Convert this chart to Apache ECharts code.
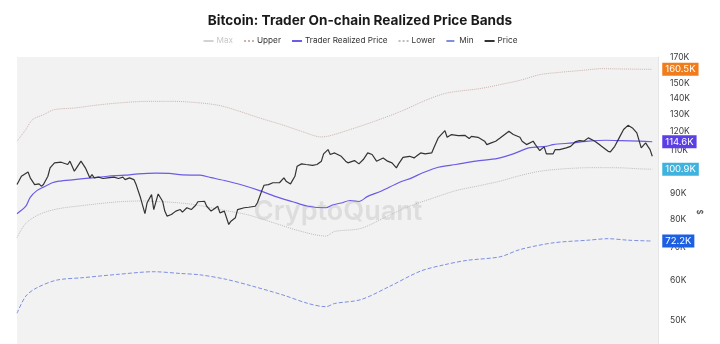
<!DOCTYPE html>
<html>
<head>
<meta charset="utf-8">
<script src="https://cdn.jsdelivr.net/npm/echarts@6/dist/echarts.min.js"></script>
<style>html,body{margin:0;padding:0;background:#fff;}#c{width:720px;height:344px;}</style>
</head>
<body>
<div id="c"></div>
<script>
// ---- Data (prices in thousands of USD; x = days since 2025-01-02) ----
const startDate = '2025-01-02';
const yTicksK = [50, 60, 70, 80, 90, 100, 110, 120, 130, 140, 150, 160, 170];

const priceDays = [
  0,2,5,6,8,10,11,12,14,15,
  17,20,23,24,26,27,29,31,33,34,
  35,37,39,41,44,46,48,49,51,53,
  54,56,58,59,61,62,64,66,67,68,
  70,72,74,75,77,79,81,82,85,86,
  88,89,91,92,94,96,97,99,100,103,
  105,108,109,111,112,114,116,119,121,122,
  124,126,127,129,131,134,136,138,139,141,
  142,144,147,149,150,153,155,157,159,161,
  163,166,168,170,172,173,175,178,180,181,
  183,185,188,189,191,192,194,195,197,200,
  203,205,206,209,212,213,215,217,219,222,
  223,225,228,229,231,234,235,237,239,240,
  243,244,246,249,251,253,255,257,259,262,
  264,265,268,269,271,273,275,277,279,281,
  283,285,286,287,288
];
const priceK = [
  93.9,97.6,99.6,96.9,93.9,94.2,93.2,93.9,97.6,101.5,
  103.9,104.2,103.1,104.7,99.9,101.5,104.7,101.5,96.9,98.4,
  96.9,97.2,96.6,96.9,97.2,96.6,97.2,96.1,96.9,96.1,
  93.9,88.3,82.0,86.3,89.6,83.6,89.9,86.9,83.0,81.1,
  81.7,83.0,83.6,82.6,84.3,83.6,85.3,86.7,86.9,84.9,
  83.0,83.6,84.9,82.3,83.0,78.0,79.2,80.5,83.6,84.3,
  84.5,84.9,86.3,91.3,93.6,93.9,94.7,94.7,96.9,95.4,
  94.2,97.6,102.3,103.4,103.1,102.7,103.1,104.7,108.3,110.5,
  108.0,108.8,107.1,104.7,103.9,105.0,103.4,105.5,108.8,108.0,
  104.7,106.3,104.7,103.9,101.5,103.4,106.6,107.1,106.3,107.1,
  108.8,108.3,108.8,111.4,116.7,118.1,120.7,117.0,118.5,117.9,
  118.1,116.3,117.5,117.0,114.9,113.1,114.0,114.9,116.6,119.4,
  120.3,118.5,117.0,114.9,113.1,114.9,113.1,110.0,111.9,108.3,
  108.3,110.5,110.5,111.4,112.2,114.5,115.2,114.9,116.7,114.9,
  113.1,112.2,109.6,109.3,112.2,116.7,121.3,123.7,122.2,119.4,
  111.4,114.0,112.2,110.5,107.1
];

const realizedDays = [0,4,6,9,12,16,19,26,34,41,49,55,63,69,75,83,88,94,102,110,117,125,132,140,143,147,151,155,159,165,173,179,184,191,199,208,218,225,232,240,243,252,259,267,274,282,288];
const realizedK = [82.0,84.9,88.5,91.3,92.8,94.7,95.4,96.1,96.9,97.6,98.1,98.7,99.0,98.9,98.2,98.1,97.0,95.7,93.7,91.3,88.9,86.7,84.9,84.3,85.4,86.2,87.2,86.8,88.9,91.0,94.7,96.9,99.2,101.8,103.1,104.7,106.1,108.3,111.4,112.2,113.1,114.0,114.9,115.4,115.2,114.9,114.6];

const upperDays = [0,4,7,12,17,26,38,50,59,71,83,92,101,110,120,129,138,142,151,162,174,186,195,210,219,228,237,246,256,265,274,283,288];
const upperK = [114.9,121.3,127.0,130.0,133.1,134.1,136.2,137.7,138.3,138.3,137.3,135.6,132.0,128.0,124.1,120.3,117.2,117.9,121.3,126.0,132.0,139.4,143.8,146.8,149.5,152.5,156.6,158.3,159.7,161.0,160.8,160.6,160.5];

const lowerDays = [0,4,10,18,30,45,56,68,80,92,104,116,128,140,144,156,168,178,189,199,210,219,228,237,246,256,265,274,283,288];
const lowerK = [73.4,78.4,81.7,83.8,85.2,86.6,87.0,86.6,85.6,83.6,81.7,78.7,75.7,73.9,75.5,76.6,81.1,84.9,88.3,91.3,93.5,95.4,97.9,99.9,100.9,101.5,101.6,101.5,101.0,100.9];

const minDays = [0,4,9,18,30,45,62,74,83,95,107,121,132,140,144,156,169,183,194,204,219,228,243,259,268,277,288];
const minK = [51.6,55.9,58.1,60.2,60.9,61.8,62.6,62.1,61.7,60.4,58.5,56.1,54.0,53.2,54.0,55.0,58.5,62.8,64.7,66.0,67.1,69.4,71.6,72.5,73.0,72.5,72.2];

// Max band is switched off in the legend (not visible in the picture)
const maxDays = [];
const maxK = [];

// ---- Build ----
const DAY = 86400000;
const t0 = Date.parse(startDate + 'T00:00:00Z');
const lnK = k => Math.log(k * 1000);
const pts = (days, vals) => days.map((d, i) => [t0 + d * DAY, lnK(vals[i])]);
const fmtK = v => (Math.exp(v) / 1000).toFixed(1) + 'K';

function endLbl(bg) {
  return {
    show: true, distance: 10, formatter: p => fmtK(p.value[1]),
    color: '#fff', backgroundColor: bg, padding: [2, 3, 1, 3],
    fontSize: 9.5, fontFamily: 'Inter'
  };
}

const chart = echarts.init(document.getElementById('c'), null, { renderer: 'canvas' });
chart.setOption({
  animation: false,
  backgroundColor: '#fff',
  textStyle: { fontFamily: 'Inter' },
  title: {
    text: 'Bitcoin: Trader On-chain Realized Price Bands',
    left: 'center', top: 9,
    textStyle: { fontSize: 13.6, fontWeight: 700, color: '#1a1a1a', fontFamily: 'Inter' }
  },
  legend: {
    top: 32, left: 'center', itemWidth: 10, itemHeight: 8, itemGap: 10,
    textStyle: { fontSize: 8.2, color: '#333', fontFamily: 'Inter', padding: [0, 0, 0, -2] },
    itemStyle: { opacity: 0 },
    inactiveColor: '#c8c8c8',
    selected: { 'Max': false },
    data: ['Max', 'Upper', 'Trader Realized Price', 'Lower', 'Min', 'Price']
  },
  grid: {
    left: 17, right: 62, top: 57, height: 311,
    show: true, backgroundColor: '#f2f2f2', borderWidth: 0,
    outerBoundsMode: 'none'
  },
  graphic: [{
    type: 'text', x: 338, y: 212, z: 1, silent: true,
    style: {
      text: 'CryptoQuant', fill: '#dddddd', fontSize: 27, fontWeight: 600,
      fontFamily: 'Inter', textAlign: 'center', textVerticalAlign: 'middle'
    }
  }, {
    type: 'text', x: 699, y: 212, rotation: -Math.PI / 2, silent: true,
    style: {
      text: '$', fill: '#333', fontSize: 8, fontFamily: 'Inter',
      textAlign: 'center', textVerticalAlign: 'middle'
    }
  }],
  xAxis: {
    type: 'time', min: t0, max: t0 + 290.6 * DAY, show: false,
    splitLine: { show: false }
  },
  yAxis: {
    type: 'value', position: 'right',
    min: lnK(40), max: lnK(170),
    splitLine: { show: false },
    axisTick: { show: false },
    axisLine: { show: true, lineStyle: { color: '#e6e6e6' } },
    axisLabel: {
      customValues: yTicksK.map(lnK),
      formatter: v => Math.round(Math.exp(v) / 1000) + 'K',
      color: '#3a3a3a', fontSize: 8.5, margin: 12, fontFamily: 'Inter'
    }
  },
  series: [
    { name: 'Max', type: 'line', symbol: 'none', smooth: 0.3, data: pts(maxDays, maxK),
      lineStyle: { type: 'dashed', width: 1, color: '#c9a9a9' }, itemStyle: { color: '#c9a9a9' } },
    { name: 'Upper', type: 'line', symbol: 'none', smooth: 0.3, data: pts(upperDays, upperK),
      lineStyle: { type: 'dotted', width: 1, color: '#ccb3ae' }, itemStyle: { color: '#bdbdbd' },
      endLabel: endLbl('#f07c1c') },
    { name: 'Trader Realized Price', type: 'line', symbol: 'none', smooth: 0.3, data: pts(realizedDays, realizedK),
      lineStyle: { width: 1.2, color: '#6b5be6' }, itemStyle: { color: '#6b5be6' },
      endLabel: endLbl('#5b3ee6') },
    { name: 'Lower', type: 'line', symbol: 'none', smooth: 0.3, data: pts(lowerDays, lowerK),
      lineStyle: { type: 'dotted', width: 1, color: '#bdbdbd' }, itemStyle: { color: '#bdbdbd' },
      endLabel: endLbl('#3fb2de') },
    { name: 'Min', type: 'line', symbol: 'none', smooth: 0.3, data: pts(minDays, minK),
      lineStyle: { type: 'dashed', width: 1, color: '#7d8fe3' }, itemStyle: { color: '#7d8fe3' },
      endLabel: endLbl('#1d5fe3') },
    { name: 'Price', type: 'line', symbol: 'none', data: pts(priceDays, priceK),
      lineStyle: { width: 1.2, color: '#333' }, itemStyle: { color: '#333' } }
  ]
});
</script>
</body>
</html>
